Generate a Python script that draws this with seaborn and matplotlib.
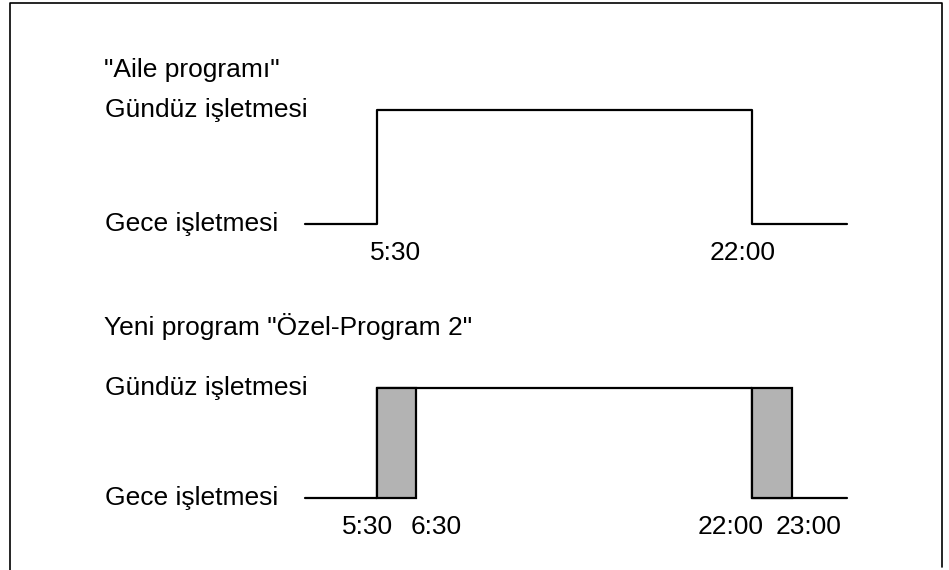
import numpy as np
import pandas as pd
import matplotlib.pyplot as plt
import matplotlib.transforms as mtransforms
from matplotlib.lines import Line2D
import seaborn as sns

# Data: times in hours, state 0 = night mode, 1 = day mode
axis_start, axis_end = 3.0, 25.0
family_times = [axis_start, 5.5, 22.0, axis_end]
family_state = [0, 1, 0, 0]
family_ticks = [5.5, 22.0]
family_labels = ['5:30', '22:00']

new_times = [axis_start, 5.5, 22.0, axis_end]
new_state = [0, 1, 0, 0]
ramp_start = [5.5, 22.0]
ramp_end = [6.5, 23.0]
new_ticks = [5.5, 6.5, 22.0, 23.0]
new_labels = ['5:30', '6:30', '22:00', '23:00']

state_names = ['Gece işletmesi', 'Gündüz işletmesi']
titles = ['"Aile programı"', 'Yeni program "Özel-Program 2"']

sns.set_theme(style='white')
plt.rcParams['font.family'] = ['Liberation Sans', 'DejaVu Sans']
plt.rcParams['text.color'] = 'black'
plt.rcParams['xtick.labelcolor'] = 'black'

W, H = 949, 570
FS = 19
fig = plt.figure(figsize=(W / 100, H / 100), dpi=100)

# schematic time axis: the one-hour transition windows are drawn wider
knot_h = [axis_start, 5.5, 6.5, 22.0, 23.0, axis_end]
knot_px = [0, 72, 111, 447, 487, 542]
fwd = lambda h: np.interp(h, knot_h, knot_px)
inv = lambda p: np.interp(p, knot_px, knot_h)

x0, x1 = 305, 847
ax_top = fig.add_axes([x0 / W, 1 - 224 / H, (x1 - x0) / W, 114 / H])
ax_bot = fig.add_axes([x0 / W, 1 - 498 / H, (x1 - x0) / W, 110 / H])

df_top = pd.DataFrame({'t': family_times, 's': family_state})
df_bot = pd.DataFrame({'t': new_times, 's': new_state})

for ax in (ax_top, ax_bot):
    ax.set_xscale('function', functions=(fwd, inv))

sns.lineplot(data=df_top, x='t', y='s', ax=ax_top, drawstyle='steps-post',
             color='black', lw=1.6, clip_on=False)
sns.lineplot(data=df_bot, x='t', y='s', ax=ax_bot, drawstyle='steps-post',
             color='black', lw=1.6, clip_on=False)
ax_bot.bar(ramp_start, [1] * len(ramp_start),
           width=np.subtract(ramp_end, ramp_start), align='edge',
           color='#b3b3b3', edgecolor='black', lw=1.6, clip_on=False, zorder=3)

for ax, ticks, labels, title, ty in [
        (ax_top, family_ticks, family_labels, titles[0], 70),
        (ax_bot, new_ticks, new_labels, titles[1], 327)]:
    ax.set_xlim(axis_start, axis_end)
    ax.set_ylim(0, 1)
    ax.set_xticks(ticks, labels)
    ax.set_yticks([])
    ax.set_xlabel('')
    ax.set_ylabel('')
    ax.tick_params(axis='x', length=0, pad=12.5, labelsize=FS)
    sns.despine(ax=ax, left=True, bottom=True)
    ax.patch.set_alpha(0)
    trans = mtransforms.blended_transform_factory(fig.transFigure, ax.transData)
    for lvl, name in enumerate(state_names):
        ax.text(105 / W, lvl, name, transform=trans, fontsize=FS,
                ha='left', va='center')
    fig.text(104 / W, 1 - ty / H, title, fontsize=FS, ha='left', va='center')

# nudge the time labels sideways (pixels) so they sit as in the drawing
for ax, shifts in [(ax_top, [19, -9]), (ax_bot, [-9, 20, -21, 17])]:
    for lab, dx in zip(ax.get_xticklabels(), shifts):
        lab.set_ha('center')
        lab.set_transform(lab.get_transform() + mtransforms.Affine2D().translate(dx, 0))

# open frame around the figure
fx = [10 / W, 10 / W, 942 / W, 942 / W]
fy = [0, 1 - 3 / H, 1 - 3 / H, 1 - 567 / H]
fig.add_artist(Line2D(fx, fy, transform=fig.transFigure, color='black', lw=1.2))

fig.savefig('out.png', dpi=100)
